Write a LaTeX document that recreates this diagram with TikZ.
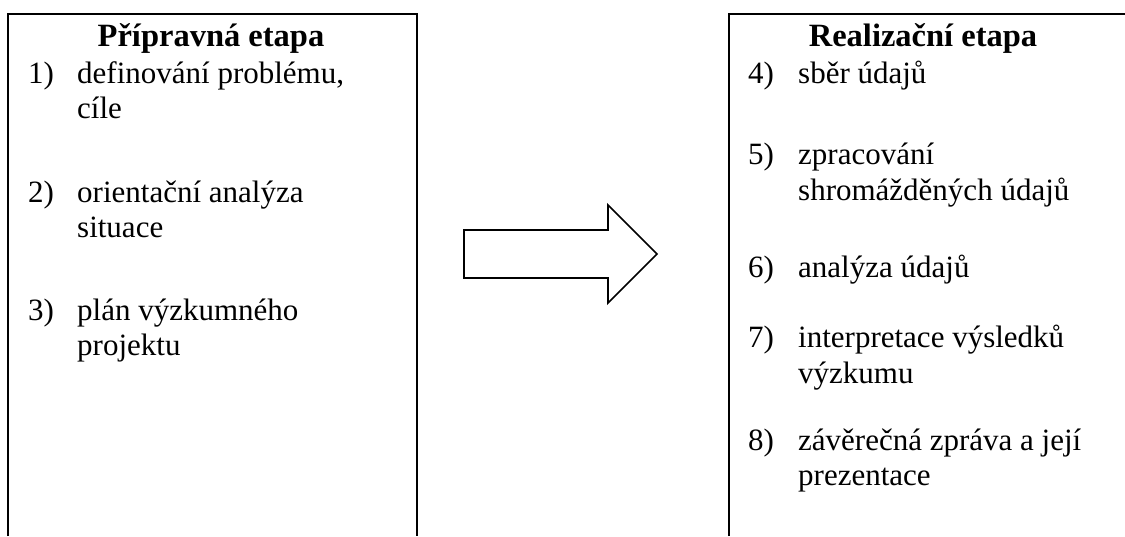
\documentclass[tikz,border=0pt]{standalone}
\usepackage{fontspec}
\setmainfont{Liberation Serif}
\begin{document}
\begin{tikzpicture}[x=1pt,y=-1pt,
  every node/.style={inner sep=0pt, font=\fontsize{31}{35}\selectfont},
  itemtext/.style={anchor=base west},
  headtext/.style={anchor=base, font=\fontsize{32.5}{36}\selectfont\bfseries},
  frame/.style={line width=2pt},
  blockarrow/.style={line width=1.7pt, line join=miter}]
\useasboundingbox (0,0) rectangle (1125,536);
% frames
\draw[frame] (8,536) -- (8,14) -- (417,14) -- (417,536);
\draw[frame] (729,536) -- (729,14) -- (1125,14);
% block arrow
\draw[blockarrow] (464,230) -- (608,230) -- (608,205) -- (657,254) -- (608,303) -- (608,278) -- (464,278) -- cycle;
% left box
\node[headtext] (t1) at (211,46) {Přípravná etapa};
\node[itemtext] (n1) at (28,83) {1)};
\node[itemtext] (i1a) at (77,83) {definování problému,};
\node[itemtext] (i1b) at (77,118) {cíle};
\node[itemtext] (n2) at (28,202) {2)};
\node[itemtext] (i2a) at (77,202) {orientační analýza};
\node[itemtext] (i2b) at (77,237) {situace};
\node[itemtext] (n3) at (28,320) {3)};
\node[itemtext] (i3a) at (77,320) {plán výzkumného};
\node[itemtext] (i3b) at (77,355) {projektu};
% right box
\node[headtext] (t2) at (923,46) {Realizační etapa};
\node[itemtext] (n4) at (748,83) {4)};
\node[itemtext] (i4a) at (798,83) {sběr údajů};
\node[itemtext] (n5) at (748,164) {5)};
\node[itemtext] (i5a) at (798,164) {zpracování};
\node[itemtext] (i5b) at (798,200) {shromážděných údajů};
\node[itemtext] (n6) at (748,277) {6)};
\node[itemtext] (i6a) at (798,277) {analýza údajů};
\node[itemtext] (n7) at (748,347) {7)};
\node[itemtext] (i7a) at (798,347) {interpretace výsledků};
\node[itemtext] (i7b) at (798,383) {výzkumu};
\node[itemtext] (n8) at (748,450) {8)};
\node[itemtext] (i8a) at (798,450) {závěrečná zpráva a její};
\node[itemtext] (i8b) at (798,485) {prezentace};
\end{tikzpicture}
\end{document}
